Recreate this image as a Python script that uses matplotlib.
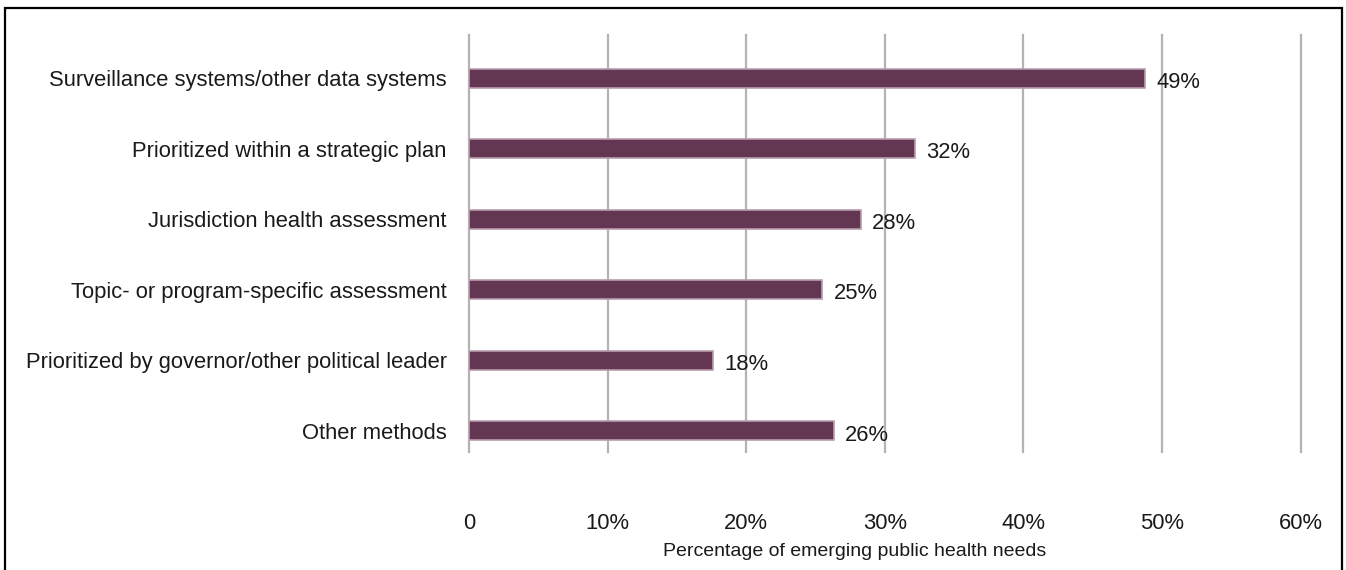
import matplotlib.pyplot as plt
from matplotlib.patches import Rectangle
import numpy as np

plt.rcParams['font.family'] = ['Liberation Sans', 'DejaVu Sans']
plt.rcParams['font.size'] = 15.8

categories = ['Surveillance systems/other data systems',
              'Prioritized within a strategic plan',
              'Jurisdiction health assessment',
              'Topic- or program-specific assessment',
              'Prioritized by governor/other political leader',
              'Other methods']
values = [48.8, 32.2, 28.3, 25.5, 17.6, 26.3]
value_labels = ['49%', '32%', '28%', '25%', '18%', '26%']
x_ticks = [0, 10, 20, 30, 40, 50, 60]
x_tick_labels = ['0', '10%', '20%', '30%', '40%', '50%', '60%']

fig = plt.figure(figsize=(13.46, 5.70), dpi=100)
ax = fig.add_axes([0.3484, 0.2070, 0.6179, 0.7316])

y = np.arange(len(categories))
ax.barh(y, values, height=0.27, color='#633652', edgecolor='#b99cad', linewidth=1.2, zorder=3)

for i in range(len(values)):
    ax.annotate(value_labels[i], (values[i], y[i]), xytext=(8, -3), textcoords='offset points',
                ha='left', va='center', color='#1a1a1a', zorder=4)

ax.set_xlim(0, 60)
ax.set_ylim(len(categories) - 1 + 0.30, -0.61)
ax.set_xticks(x_ticks)
ax.set_xticklabels(x_tick_labels)
ax.set_yticks(y)
ax.set_yticklabels(categories)
ax.tick_params(axis='x', length=0, pad=44, labelcolor='#1a1a1a')
ax.tick_params(axis='y', length=0, pad=16, labelcolor='#1a1a1a')
ax.grid(axis='x', color='#b3b3b3', linewidth=1.6, zorder=0)
for gl in ax.get_xgridlines():
    gl.set_clip_on(False)
for s in ax.spines.values():
    s.set_visible(False)

fig.text(855 / 1346, 1 - 551 / 570, 'Percentage of emerging public health needs',
         ha='center', va='center', fontsize=14, color='#1a1a1a')

fig.patches.append(Rectangle((5 / 1346, -0.01), 1337 / 1346, 1 - 8 / 570 + 0.01,
                             transform=fig.transFigure, fill=False, edgecolor='black',
                             linewidth=1.6, zorder=10))

plt.savefig('out.png', dpi=100)
